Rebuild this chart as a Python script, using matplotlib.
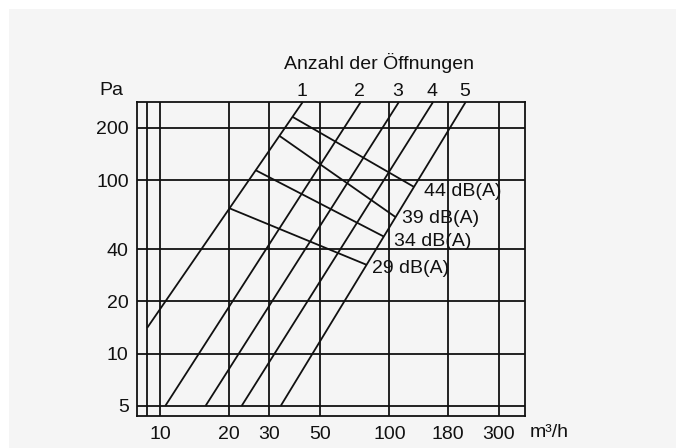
import numpy as np
import matplotlib
matplotlib.use('Agg')
import matplotlib.pyplot as plt
from matplotlib.patches import Rectangle

plt.rcParams['font.family'] = ['Liberation Sans', 'DejaVu Sans']

# ---- data ----
x_ticks = [10, 20, 30, 50, 100, 180, 300]
x_labels = ['10', '20', '30', '50', '100', '180', '300']
y_ticks = [5, 10, 20, 40, 100, 200]
y_labels = ['5', '10', '20', '40', '100', '200']
x_extra_grid = [8.8]

openings = ['1', '2', '3', '4', '5']
# characteristic lines (flow m3/h, pressure Pa): lower and upper end
line_q_low = [8.8, 10.55, 15.8, 22.7, 33.6]
line_p_low = [14.1, 5, 5, 5, 5]
line_q_high = [41.9, 75, 110, 155, 215]
line_p_high = [282, 282, 282, 282, 282]

db_labels = ['44 dB(A)', '39 dB(A)', '34 dB(A)', '29 dB(A)']
db_p_on_line1 = [231.6, 180, 114, 68.8]
db_p_on_line5 = [91.4, 61.2, 47.3, 32.5]

XLIM = (7.94, 390)
YLIM = (4.37, 282)

# ---- figure ----
W, H = 676, 448
FS = 14
fig = plt.figure(figsize=(W / 100, H / 100), dpi=100, facecolor='white')
bg = '#f5f5f5'
fig.patches.append(Rectangle((9 / W, 0), 1 - 9 / W, 1 - 9 / H, transform=fig.transFigure,
                             facecolor=bg, edgecolor='none', zorder=-10))

ax = fig.add_axes([137 / W, (H - 416) / H, (525 - 137) / W, (416 - 102) / H])
ax.set_facecolor(bg)
ax.set_xscale('log')
ax.set_yscale('log')
ax.set_xlim(*XLIM)
ax.set_ylim(*YLIM)

lc = '#111111'
lw = 1.3
for s in ax.spines.values():
    s.set_color(lc)
    s.set_linewidth(lw)

for xv in x_extra_grid + x_ticks:
    ax.axvline(xv, color=lc, lw=lw, zorder=1)
for yv in y_ticks:
    ax.axhline(yv, color=lc, lw=lw, zorder=1)

ax.set_xticks(x_ticks)
ax.set_xticklabels(x_labels)
ax.set_yticks(y_ticks)
ax.set_yticklabels(y_labels)
ax.minorticks_off()
ax.tick_params(axis='both', length=0, labelsize=FS, colors='#111111')
ax.tick_params(axis='x', pad=7)
ax.tick_params(axis='y', pad=6)


def q_on_line(i, p):
    lq0, lq1 = np.log10(line_q_low[i]), np.log10(line_q_high[i])
    lp0, lp1 = np.log10(line_p_low[i]), np.log10(line_p_high[i])
    return 10 ** (lq0 + (np.log10(p) - lp0) * (lq1 - lq0) / (lp1 - lp0))


for i, name in enumerate(openings):
    ax.plot([line_q_low[i], line_q_high[i]], [line_p_low[i], line_p_high[i]],
            color=lc, lw=lw, solid_capstyle='butt', clip_on=False, zorder=3)
    ax.annotate(name, xy=(line_q_high[i], line_p_high[i]), xytext=(-1, 11),
                textcoords='offset pixels', ha='center', va='center',
                fontsize=FS, color='#111111', annotation_clip=False)

db_offsets = [(10, -5), (6, -1), (10, -5), (5, -4)]
for j, lab in enumerate(db_labels):
    p1, p5 = db_p_on_line1[j], db_p_on_line5[j]
    q1, q5 = q_on_line(0, p1), q_on_line(4, p5)
    ax.plot([q1, q5], [p1, p5], color=lc, lw=lw, solid_capstyle='butt', zorder=3)
    ax.annotate(lab, xy=(q5, p5), xytext=db_offsets[j], textcoords='offset pixels',
                ha='left', va='center', fontsize=FS, color='#111111')

fig.text(379 / W, 1 - 63 / H, 'Anzahl der Öffnungen', ha='center', va='center',
         fontsize=FS, color='#111111')
fig.text(111 / W, 1 - 90 / H, 'Pa', ha='center', va='center', fontsize=FS, color='#111111')
fig.text(530 / W, 1 - 432 / H, 'm³/h', ha='left', va='center', fontsize=FS, color='#111111')

fig.savefig('out.png', dpi=100, facecolor=fig.get_facecolor())
